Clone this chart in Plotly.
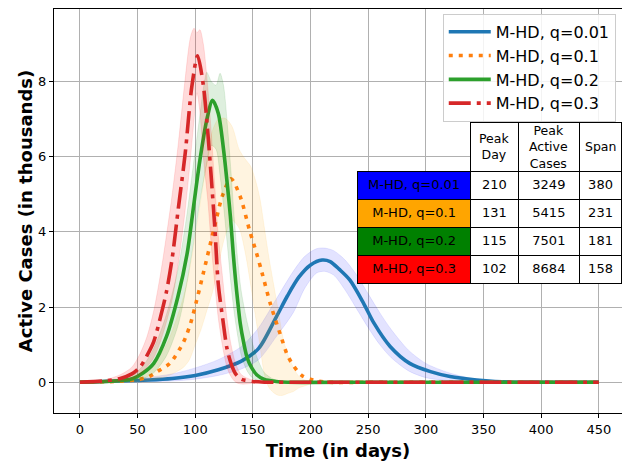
import plotly.graph_objects as go

# ---------------- data ----------------
series_names = ["M-HD, q=0.01", "M-HD, q=0.1", "M-HD, q=0.2", "M-HD, q=0.3"]

# q = 0.01
blue_days = [0, 20, 40, 60, 80, 100, 120, 140, 155, 170, 180, 190, 200, 210, 217, 225, 234, 246, 255, 269, 286, 304, 321, 344, 360, 380, 400, 450]
blue_mean = [0, 0.02, 0.04, 0.06, 0.1, 0.18, 0.33, 0.56, 0.9, 1.72, 2.3, 2.8, 3.12, 3.25, 3.21, 3.0, 2.72, 2.1, 1.57, 0.95, 0.5, 0.28, 0.15, 0.06, 0.02, 0, 0, 0]
blue_band_days = [0, 50, 80, 100, 120, 140, 155, 170, 185, 195, 205, 212, 220, 230, 240, 250, 260, 270, 285, 300, 320, 340, 360, 380]
blue_upper = [0, 0.1, 0.22, 0.38, 0.6, 0.95, 1.45, 2.2, 2.95, 3.35, 3.55, 3.57, 3.5, 3.25, 2.85, 2.35, 1.85, 1.4, 0.85, 0.5, 0.25, 0.1, 0.03, 0]
blue_lower = [0, 0.01, 0.03, 0.08, 0.18, 0.35, 0.6, 1.2, 1.85, 2.5, 2.9, 2.95, 2.85, 2.45, 1.95, 1.45, 1.0, 0.65, 0.3, 0.12, 0.04, 0, 0, 0]

# q = 0.1
orange_days = [0, 30, 50, 60, 67, 78, 90, 96, 101, 107, 116, 124, 131, 139, 147, 153, 158, 165, 174, 181, 192, 202, 215, 250, 300, 350, 400, 450]
orange_mean = [0, 0.02, 0.07, 0.15, 0.28, 0.5, 1.08, 1.57, 2.15, 2.9, 4.05, 5.0, 5.415, 4.94, 4.05, 3.45, 2.9, 2.1, 1.25, 0.65, 0.19, 0.06, 0, 0, 0, 0, 0, 0]
orange_band_days = [0, 30, 50, 60, 75, 85, 90, 95, 100, 105, 110, 115, 120, 126, 132, 138, 143, 148, 152, 156, 160, 164, 168, 172, 176, 180, 185, 190, 195, 205, 215]
orange_upper = [0, 0.05, 0.15, 0.35, 1.0, 1.8, 2.3, 3.0, 3.9, 4.9, 5.9, 6.7, 7.0, 7.02, 6.8, 6.2, 5.95, 5.75, 5.4, 4.9, 4.1, 3.3, 2.6, 1.9, 1.2, 0.75, 0.4, 0.15, 0.06, 0.02, 0]
orange_lower = [0, 0, 0.02, 0.05, 0.15, 0.3, 0.4, 0.6, 1.0, 1.4, 1.9, 2.4, 3.1, 3.9, 4.3, 4.1, 3.5, 2.6, 1.8, 1.0, 0.2, -0.15, -0.28, -0.35, -0.35, -0.3, -0.25, -0.15, -0.1, 0, 0]

# q = 0.2
green_days = [0, 30, 46, 55, 64, 75, 85, 93, 98.5, 104, 110, 115, 120, 124.5, 128, 130.5, 133, 135, 137, 139, 142, 145, 149, 153.5, 160, 170, 180, 250, 300, 350, 400, 450]
green_mean = [0, 0.03, 0.1, 0.25, 0.5, 1.21, 2.28, 3.43, 4.67, 5.9, 6.98, 7.501, 7.15, 6.2, 5.2, 4.4, 3.4, 2.7, 2.1, 1.57, 1.05, 0.65, 0.38, 0.19, 0.07, 0.02, 0, 0, 0, 0, 0, 0]
green_band_days = [0, 30, 46, 55, 64, 75, 85, 92, 98, 104, 108, 110, 114, 118, 121.5, 124.5, 128, 131, 134, 137, 140, 145, 150, 155, 160, 168, 180]
green_upper = [0, 0.06, 0.2, 0.45, 0.9, 1.8, 3.0, 4.3, 5.7, 7.1, 8.0, 8.25, 8.0, 7.9, 8.22, 7.9, 6.8, 5.6, 4.3, 3.2, 2.4, 1.6, 1.0, 0.55, 0.25, 0.08, 0]
green_lower = [0, 0, 0.03, 0.1, 0.25, 0.7, 1.5, 2.5, 3.6, 4.8, 5.5, 5.8, 6.3, 6.2, 5.5, 4.7, 3.6, 2.6, 1.8, 1.2, 0.7, 0.3, 0.1, 0.03, 0, 0, 0]

# q = 0.3
red_days = [0, 20, 35, 45, 52.3, 58, 64, 70, 75, 80, 85.5, 91.3, 97, 102, 107, 111, 114, 117, 120, 124, 127.5, 131, 135, 140, 150, 160, 200, 250, 300, 350, 400, 450]
red_mean = [0, 0.03, 0.1, 0.22, 0.41, 0.7, 1.08, 1.75, 2.4, 3.3, 4.67, 6.09, 7.86, 8.684, 7.9, 6.6, 5.4, 4.1, 2.6, 1.65, 0.9, 0.5, 0.22, 0.08, 0.02, 0, 0, 0, 0, 0, 0, 0]
red_band_days = [0, 20, 35, 45, 52, 58, 64, 70, 75, 80, 85.5, 91, 96, 99, 101.5, 104, 107, 111, 114, 117, 120, 124, 127.5, 131, 135, 140, 150, 160]
red_upper = [0, 0.05, 0.2, 0.4, 0.75, 1.2, 1.9, 2.9, 3.9, 5.0, 6.4, 8.0, 9.2, 9.42, 9.3, 9.38, 9.0, 7.8, 6.6, 5.2, 3.9, 2.7, 1.7, 1.0, 0.5, 0.2, 0.05, 0]
red_lower = [0, 0, 0.02, 0.08, 0.2, 0.4, 0.65, 1.1, 1.6, 2.2, 3.2, 4.5, 6.0, 7.0, 7.7, 7.2, 6.0, 4.8, 3.6, 2.6, 1.7, 0.9, 0.4, 0.15, 0, -0.05, -0.03, 0]

line_colors = ["#1f77b4", "#ff7f0e", "#2ca02c", "#d62728"]
band_colors = ["rgba(0,0,255,0.11)", "rgba(255,165,0,0.12)", "rgba(0,128,0,0.13)", "rgba(255,0,0,0.14)"]
dashes = ["solid", "4px,6px", "solid", "22px,6px,4px,6px"]

# table data
table_header = ["", "Peak<br>Day", "Peak<br>Active<br>Cases", "Span"]
table_rows = ["M-HD, q=0.01", "M-HD, q=0.1", "M-HD, q=0.2", "M-HD, q=0.3"]
peak_day = [210, 131, 115, 102]
peak_cases = [3249, 5415, 7501, 8684]
span = [380, 231, 181, 158]
row_colors = ["#0000ff", "#ffa500", "#008000", "#ff0000"]

x_ticks = [0, 50, 100, 150, 200, 250, 300, 350, 400, 450]
y_ticks = [0, 2, 4, 6, 8]

# ---------------- figure ----------------
W, H = 622, 463
ML, MR, MT, MB = 54, 0, 9, 50
PW, PH = W - ML - MR, H - MT - MB

fig = go.Figure()

all_series = [
    (blue_days, blue_mean, blue_band_days, blue_upper, blue_lower),
    (orange_days, orange_mean, orange_band_days, orange_upper, orange_lower),
    (green_days, green_mean, green_band_days, green_upper, green_lower),
    (red_days, red_mean, red_band_days, red_upper, red_lower),
]

for i, (d, m, bd, up, lo) in enumerate(all_series):
    fig.add_trace(go.Scatter(
        x=list(bd) + list(bd[::-1]),
        y=list(up) + list(lo[::-1]),
        fill="toself", fillcolor=band_colors[i],
        line=dict(color=band_colors[i], width=0.8, shape="spline", smoothing=0.8),
        mode="lines", showlegend=False, hoverinfo="skip",
    ))
    fig.add_trace(go.Scatter(
        x=d, y=m, mode="lines", name=series_names[i],
        line=dict(color=line_colors[i], width=3.6, dash=dashes[i], shape="spline", smoothing=0.8),
    ))

# table geometry (pixels)
tab_left, tab_right, tab_top = 357.3, 621.5, 122.3
col_w = [113.4, 47, 61.6, 41.5]
head_h, cell_h = 49, 28
tab_bottom = tab_top + head_h + 4 * cell_h + 3

fig.add_trace(go.Table(
    domain=dict(x=[(tab_left - ML) / PW, min(1.0, (tab_right - ML) / PW)],
                y=[1 - (tab_bottom - MT) / PH, 1 - (tab_top - MT) / PH]),
    columnwidth=col_w,
    header=dict(
        values=[""] * 4,
        height=head_h,
        fill=dict(color=["rgba(0,0,0,0)", "white", "white", "white"]),
        line=dict(color=["rgba(0,0,0,0)", "black", "black", "black"], width=1),
        font=dict(family="DejaVu Sans", size=12.5, color="black"),
        align="center",
    ),
    cells=dict(
        values=[table_rows, peak_day, peak_cases, span],
        height=cell_h,
        fill=dict(color=[row_colors, ["white"] * 4, ["white"] * 4, ["white"] * 4]),
        line=dict(color="black", width=1),
        font=dict(family="DejaVu Sans", size=13, color="black"),
        align="center",
    ),
))

# header texts, centred in their header cells
x0 = tab_left
for j, txt in enumerate(table_header):
    cx = x0 + col_w[j] / 2
    x0 += col_w[j]
    if not txt:
        continue
    fig.add_annotation(
        x=(cx - ML) / PW, y=1 - (tab_top + head_h / 2 - MT) / PH,
        xref="paper", yref="paper", xanchor="center", yanchor="middle",
        text=txt, showarrow=False, align="center",
        font=dict(family="DejaVu Sans", size=12.5, color="black"),
    )

fig.update_layout(
    width=W, height=H,
    margin=dict(l=ML, r=MR, t=MT, b=MB),
    paper_bgcolor="white", plot_bgcolor="white",
    font=dict(family="DejaVu Sans", color="black"),
    legend=dict(
        x=0.989, y=0.988, xanchor="right", yanchor="top",
        bgcolor="rgba(255,255,255,0.85)", bordercolor="#cccccc", borderwidth=1,
        font=dict(size=16, family="DejaVu Sans", color="black"),
        itemwidth=42,
    ),
    xaxis=dict(
        range=[-22.5, 470.1], tickvals=x_ticks,
        showgrid=True, gridcolor="#b0b0b0", gridwidth=1,
        showline=True, linecolor="black", linewidth=1.2, mirror=True,
        ticks="outside", ticklen=4, tickcolor="black",
        tickfont=dict(size=13, color="black"), zeroline=False,
        title=dict(text="<b>Time (in days)</b>", font=dict(size=18), standoff=8),
    ),
    yaxis=dict(
        range=[-0.82, 9.93], tickvals=y_ticks,
        showgrid=True, gridcolor="#b0b0b0", gridwidth=1,
        showline=True, linecolor="black", linewidth=1.2, mirror=True,
        ticks="outside", ticklen=4, tickcolor="black",
        tickfont=dict(size=13, color="black"), zeroline=False,
        title=dict(text="<b>Active Cases (in thousands)</b>", font=dict(size=18), standoff=0),
    ),
)

fig.write_html("out.html")
